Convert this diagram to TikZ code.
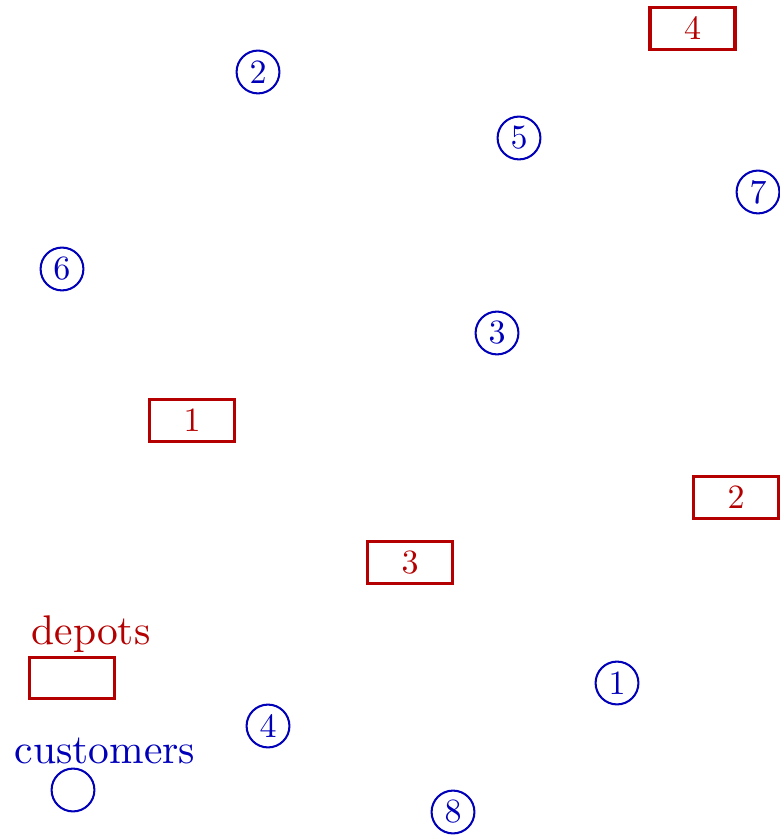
\documentclass[tikz,border=0pt]{standalone}
\begin{document}
\begin{tikzpicture}[x=0.2941pt, y=-0.2941pt]
\definecolor{dep}{RGB}{180,0,0}
\definecolor{cus}{RGB}{0,0,185}
\tikzset{
  depot/.style={draw=dep, text=dep, line width=0.9pt, rectangle, minimum width=25pt, minimum height=12.2pt, inner sep=0pt},
  cust/.style={draw=cus, text=cus, line width=0.6pt, circle, minimum size=12.6pt, inner sep=0pt},
  legtext/.style={scale=1.22}
}
\useasboundingbox (0,0) rectangle (779,835);
% depots
\node[depot] (d4) at (692.5,28.5) {4};
\node[depot] (d1) at (192,420.5) {1};
\node[depot] (d2) at (736,497.5) {2};
\node[depot] (d3) at (410,562.5) {3};
% customers
\node[cust] (c2) at (258,72) {2};
\node[cust] (c5) at (519,138) {5};
\node[cust] (c7) at (758,192) {7};
\node[cust] (c6) at (62,269) {6};
\node[cust] (c3) at (497,333) {3};
\node[cust] (c1) at (617,683) {1};
\node[cust] (c4) at (268,726) {4};
\node[cust] (c8) at (453,812) {8};
% legend
\node[legtext, text=dep] (ld) at (91,634) {depots};
\node[depot] (ldb) at (72,678) {};
\node[legtext, text=cus] (lc) at (105,751) {customers};
\node[cust] (lcc) at (73,790) {};
\end{tikzpicture}
\end{document}
